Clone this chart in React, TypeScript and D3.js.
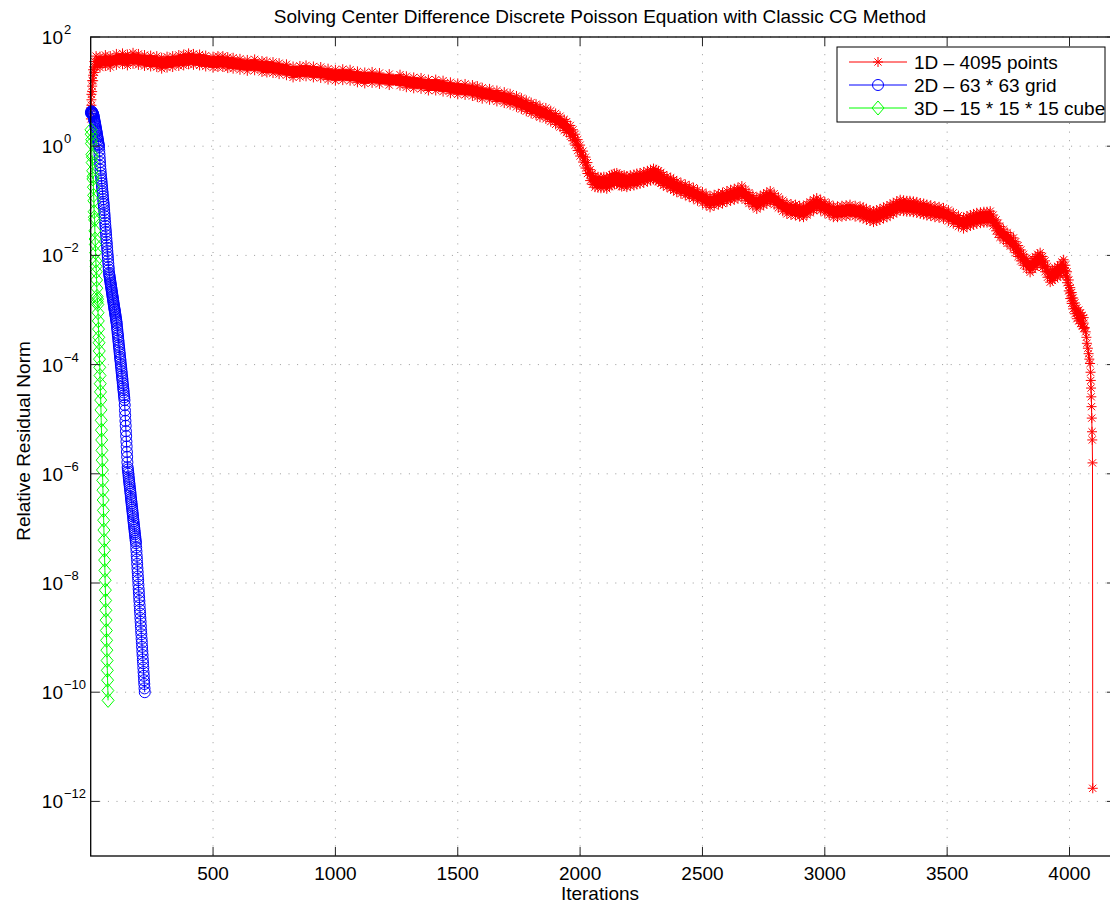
import * as d3 from "d3";

const W = 1110;
const H = 905;
const LEFT = 90.7;
const RIGHT = 1116;
const TOP = 37;
const BOTTOM = 856;
const FONT = "'Liberation Sans', Arial, Helvetica, sans-serif";

const xTicks = [500, 1000, 1500, 2000, 2500, 3000, 3500, 4000];
const yTickExps = [2, 0, -2, -4, -6, -8, -10, -12];
const seriesLabels = ["1D \u2013 4095 points", "2D \u2013 63 * 63 grid", "3D \u2013 15 * 15 * 15 cube"];

// 1D: [iteration, log10 relative residual]
const redPoints: [number, number][] = [
  [1, 0.6], [3, 0.85], [6, 1.1], [10, 1.3], [15, 1.45], [22, 1.55], [38, 1.54], [60, 1.57],
  [80, 1.55], [105, 1.59], [130, 1.6], [150, 1.58], [173, 1.61], [195, 1.59], [220, 1.57],
  [245, 1.56], [270, 1.55], [290, 1.52], [312, 1.54], [335, 1.55], [360, 1.57], [380, 1.58],
  [400, 1.6], [420, 1.59], [445, 1.58], [470, 1.56], [500, 1.54], [520, 1.55], [540, 1.55],
  [560, 1.53], [582, 1.52], [610, 1.5], [640, 1.48], [670, 1.49], [700, 1.46], [720, 1.45],
  [745, 1.44], [770, 1.42], [800, 1.4], [827, 1.36], [855, 1.37], [880, 1.38], [910, 1.36],
  [940, 1.35], [970, 1.32], [1000, 1.3], [1030, 1.31], [1060, 1.3], [1090, 1.27], [1120, 1.25],
  [1150, 1.26], [1180, 1.24], [1220, 1.22], [1264, 1.21], [1290, 1.18], [1320, 1.16], [1350, 1.15],
  [1380, 1.12], [1410, 1.12], [1440, 1.1], [1470, 1.07], [1500, 1.05], [1530, 1.04], [1560, 1.02],
  [1580, 1.0], [1600, 0.97], [1630, 0.95], [1660, 0.92], [1690, 0.89], [1714, 0.86], [1740, 0.82],
  [1760, 0.78], [1780, 0.74], [1800, 0.7], [1820, 0.67], [1836, 0.63], [1860, 0.6], [1880, 0.55],
  [1900, 0.5], [1918, 0.45], [1935, 0.39], [1945, 0.35], [1960, 0.28], [1971, 0.2], [1980, 0.12],
  [1990, 0.02], [2000, -0.08], [2012, -0.19], [2022, -0.3], [2030, -0.4], [2041, -0.53], [2050, -0.6],
  [2061, -0.65], [2073, -0.66], [2085, -0.67], [2097, -0.66], [2109, -0.68], [2120, -0.64],
  [2130, -0.62], [2140, -0.6], [2150, -0.59], [2160, -0.62], [2170, -0.64], [2180, -0.63],
  [2191, -0.65], [2205, -0.63], [2220, -0.62], [2232, -0.6], [2245, -0.59], [2260, -0.57],
  [2275, -0.55], [2288, -0.53], [2300, -0.51], [2310, -0.53], [2320, -0.55], [2330, -0.58],
  [2340, -0.62], [2355, -0.65], [2370, -0.68], [2382, -0.71], [2395, -0.74], [2412, -0.77],
  [2430, -0.8], [2446, -0.83], [2463, -0.86], [2480, -0.9], [2500, -0.94], [2515, -0.98],
  [2531, -1.02], [2548, -0.99], [2565, -0.97], [2582, -0.95], [2600, -0.92], [2615, -0.9],
  [2630, -0.88], [2645, -0.86], [2661, -0.83], [2675, -0.89], [2690, -0.95], [2706, -1.0],
  [2722, -1.05], [2736, -1.01], [2750, -0.98], [2763, -0.95], [2777, -0.92], [2793, -0.97],
  [2810, -1.03], [2828, -1.09], [2845, -1.14], [2862, -1.16], [2880, -1.17], [2897, -1.19],
  [2913, -1.2], [2927, -1.16], [2940, -1.12], [2954, -1.08], [2967, -1.05], [2983, -1.08],
  [3000, -1.12], [3018, -1.16], [3035, -1.2], [3052, -1.2], [3070, -1.19], [3087, -1.18],
  [3103, -1.17], [3124, -1.19], [3144, -1.2], [3157, -1.22], [3170, -1.25], [3185, -1.27],
  [3199, -1.29], [3212, -1.27], [3225, -1.25], [3240, -1.22], [3254, -1.2], [3267, -1.17],
  [3280, -1.14], [3294, -1.11], [3308, -1.08], [3322, -1.09], [3335, -1.1], [3348, -1.1],
  [3362, -1.11], [3376, -1.12], [3390, -1.14], [3404, -1.15], [3417, -1.17], [3433, -1.18],
  [3450, -1.2], [3467, -1.21], [3485, -1.23], [3505, -1.27], [3525, -1.32], [3546, -1.37],
  [3567, -1.41], [3581, -1.38], [3595, -1.36], [3608, -1.34], [3621, -1.32], [3636, -1.31],
  [3650, -1.3], [3663, -1.3], [3676, -1.29], [3688, -1.36], [3700, -1.45], [3708, -1.51],
  [3716, -1.57], [3730, -1.62], [3745, -1.68], [3758, -1.73], [3771, -1.78], [3780, -1.85],
  [3790, -1.92], [3801, -2.0], [3812, -2.08], [3825, -2.15], [3839, -2.21], [3850, -2.16],
  [3860, -2.12], [3870, -2.08], [3880, -2.05], [3890, -2.12], [3900, -2.2], [3910, -2.3],
  [3921, -2.39], [3930, -2.36], [3940, -2.33], [3951, -2.3], [3962, -2.27], [3969, -2.22],
  [3976, -2.18], [3983, -2.28], [3990, -2.4], [3997, -2.55], [4003, -2.69], [4009, -2.78],
  [4015, -2.88], [4022, -2.97], [4030, -3.06], [4038, -3.1], [4045, -3.15], [4052, -3.2],
  [4058, -3.24], [4062, -3.32], [4066, -3.4], [4069, -3.5], [4071, -3.61], [4075, -3.7],
  [4078, -3.8], [4081, -3.9], [4084, -3.98], [4086, -4.14], [4087, -4.29], [4088, -4.43],
  [4089, -4.59], [4090, -4.77], [4091, -4.98], [4092, -5.23], [4093, -5.38], [4094, -5.8],
  [4095, -11.76],
];

// 2D: log10 residual at iterations 1 .. 221
const blueLog = [
  0.62, 0.6, 0.64, 0.61, 0.6, 0.63, 0.59, 0.6, 0.6, 0.58, 0.57, 0.55,
  0.53, 0.5, 0.48, 0.45, 0.43, 0.41, 0.38, 0.36, 0.33, 0.31, 0.28, 0.26, 0.23, 0.2, 0.18, 0.15,
  0.12, 0.1, 0.07, 0.04, 0.02, -0.01,
  -0.08, -0.15, -0.22, -0.29, -0.36, -0.43, -0.49,
  -0.54, -0.59, -0.63, -0.68, -0.73, -0.78, -0.83, -0.87, -0.92, -0.97, -1.02, -1.06, -1.11,
  -1.17, -1.23, -1.28, -1.34, -1.4, -1.46, -1.52, -1.57, -1.63, -1.69, -1.75, -1.8, -1.86, -1.92,
  -1.98, -2.03, -2.09, -2.15, -2.21, -2.26, -2.32,
  -2.35, -2.38, -2.41, -2.44, -2.47, -2.5, -2.53, -2.56, -2.59, -2.62, -2.65, -2.68, -2.71, -2.74,
  -2.77, -2.8, -2.83, -2.86, -2.89, -2.92, -2.95, -2.98, -3.0, -3.03, -3.06, -3.09, -3.12, -3.15,
  -3.18, -3.21, -3.24,
  -3.28, -3.33, -3.37, -3.42, -3.46, -3.5, -3.55, -3.59, -3.64, -3.68, -3.72, -3.77, -3.81, -3.86,
  -3.9, -3.94, -3.99, -4.03, -4.07, -4.12, -4.16, -4.21, -4.25, -4.29, -4.34, -4.38, -4.43, -4.47,
  -4.51, -4.56, -4.6, -4.65,
  -4.74, -4.84, -4.93, -5.03, -5.12, -5.22, -5.31, -5.41, -5.5, -5.6, -5.69, -5.79, -5.88,
  -5.92, -5.96, -6.0, -6.05, -6.09, -6.13, -6.17, -6.21, -6.25, -6.29, -6.33, -6.37, -6.42, -6.46,
  -6.5, -6.54, -6.58, -6.62, -6.66, -6.7, -6.74, -6.78, -6.83, -6.87, -6.91, -6.95, -6.99, -7.03,
  -7.07, -7.11, -7.15, -7.19, -7.23, -7.27,
  -7.35, -7.42, -7.5, -7.57, -7.65, -7.73, -7.8, -7.88, -7.95, -8.03, -8.11, -8.18, -8.26, -8.33,
  -8.41, -8.49, -8.56, -8.64, -8.71, -8.79, -8.87, -8.94, -9.02, -9.09, -9.17, -9.25, -9.32, -9.4,
  -9.47, -9.55, -9.63, -9.7, -9.78, -9.85, -9.93, -10.0,
];

// 3D: log10 residual at iterations 1 .. 71
const greenLog = [
  0.3, 0.22, 0.05, 0.12, -0.15, -0.3, -0.2, -0.45, -0.6, -0.55, -0.75, -0.9, -1.0, -1.2, -1.3,
  -1.35, -1.55, -1.7, -1.8, -1.95, -2.1, -2.2, -2.3, -2.45, -2.6, -2.75, -2.85, -2.8, -2.9, -3.05,
  -3.2, -3.35, -3.5, -3.6, -3.75, -3.9, -4.05, -4.2, -4.35, -4.5, -4.65, -4.83, -5.02, -5.2, -5.38,
  -5.57, -5.75, -5.93, -6.12, -6.3, -6.48, -6.67, -6.85, -7.03, -7.22, -7.4, -7.58, -7.77, -7.95,
  -8.13, -8.32, -8.5, -8.68, -8.87, -9.05, -9.23, -9.42, -9.6, -9.78, -9.97, -10.15,
];

const RED = "#ff0000";
const BLUE = "#0000ff";
const GREEN = "#00ff00";
const BAND = 0.1; // half thickness (decades) of the dense oscillating 1D band
const BAND_END = 4060;

const STAR = "M-5,0H5M0,-5V5M-3.6,-3.6L3.6,3.6M-3.6,3.6L3.6,-3.6";
const DIAMOND = "M0,-7L6,0L0,7L-6,0Z";

const x = d3.scaleLinear().domain([0, 4190]).range([LEFT, RIGHT]);
const y = d3.scaleLog().domain([1e-13, 1e2]).range([BOTTOM, TOP]);

type P = { i: number; v: number };

const red: P[] = redPoints.map(([i, l]) => ({ i, v: 10 ** l }));
const blue: P[] = blueLog.map((l, k) => ({ i: 1 + k, v: 10 ** l }));
const green: P[] = greenLog.map((l, k) => ({ i: 1 + k, v: 10 ** l }));

const line = d3
  .line<P>()
  .x((d) => x(d.i))
  .y((d) => y(d.v));

const bandPts = redPoints.filter(([i]) => i <= BAND_END);
const band = d3
  .area<[number, number]>()
  .x((d) => x(d[0]))
  .y0((d) => y(10 ** (d[1] - BAND)))
  .y1((d) => y(10 ** (d[1] + BAND)));

const App = () => {
  const supExp = (e: number) => (e < 0 ? "\u2212" + Math.abs(e) : String(e));
  return (
    <svg
      width={W}
      height={H}
      style={{ position: "absolute", left: 0, top: 0, background: "#fff" }}
      fontFamily={FONT}
    >
      <rect x={0} y={0} width={W} height={H} fill="#fff" />

      {/* grid */}
      <g stroke="#9a9a9a" strokeWidth={1} strokeDasharray="1,7.6">
        {xTicks.map((t) => (
          <line key={"gx" + t} x1={x(t)} x2={x(t)} y1={TOP} y2={BOTTOM} />
        ))}
        {yTickExps.map((e) => (
          <line key={"gy" + e} x1={LEFT} x2={RIGHT} y1={y(10 ** e)} y2={y(10 ** e)} />
        ))}
      </g>

      {/* 1D series */}
      <path d={band(bandPts) ?? ""} fill={RED} />
      <path d={line(red) ?? ""} fill="none" stroke={RED} strokeWidth={1} />
      <g stroke={RED} strokeWidth={1} fill="none">
        {red.map((d, k) => (
          <path key={"r" + k} d={STAR} transform={`translate(${x(d.i)},${y(d.v)})`} />
        ))}
        {bandPts.map(([i, l], k) => (
          <g key={"rb" + k}>
            <path d={STAR} transform={`translate(${x(i)},${y(10 ** (l + BAND))})`} />
            <path d={STAR} transform={`translate(${x(i)},${y(10 ** (l - BAND))})`} />
          </g>
        ))}
      </g>

      {/* 2D series */}
      <path d={line(blue) ?? ""} fill="none" stroke={BLUE} strokeWidth={1} />
      <g stroke={BLUE} strokeWidth={1} fill="none">
        {blue.map((d, k) => (
          <circle key={"b" + k} cx={x(d.i)} cy={y(d.v)} r={5.5} />
        ))}
      </g>

      {/* 3D series */}
      <path d={line(green) ?? ""} fill="none" stroke={GREEN} strokeWidth={1} />
      <g stroke={GREEN} strokeWidth={1} fill="none">
        {green.map((d, k) => (
          <path key={"g" + k} d={DIAMOND} transform={`translate(${x(d.i)},${y(d.v)})`} />
        ))}
      </g>

      {/* axes box and ticks */}
      <rect x={LEFT} y={TOP} width={RIGHT - LEFT} height={BOTTOM - TOP} fill="none" stroke="#000" strokeWidth={1.3} />
      <g stroke="#222" strokeWidth={1}>
        {xTicks.map((t) => (
          <g key={"tx" + t}>
            <line x1={x(t)} x2={x(t)} y1={BOTTOM} y2={BOTTOM - 9} />
            <line x1={x(t)} x2={x(t)} y1={TOP} y2={TOP + 9} />
          </g>
        ))}
        {yTickExps.map((e) => (
          <g key={"ty" + e}>
            <line x1={LEFT} x2={LEFT + 9} y1={y(10 ** e)} y2={y(10 ** e)} />
            <line x1={RIGHT} x2={RIGHT - 9} y1={y(10 ** e)} y2={y(10 ** e)} />
          </g>
        ))}
      </g>

      {/* tick labels */}
      <g fontSize={19} fill="#000">
        {xTicks.map((t) => (
          <text key={"lx" + t} x={x(t)} y={880} textAnchor="middle">
            {t}
          </text>
        ))}
        {yTickExps.map((e) => (
          <g key={"ly" + e}>
            <text x={63} y={y(10 ** e) + 7} textAnchor="end">
              10
            </text>
            <text x={64} y={y(10 ** e) - 3} fontSize={13}>
              {supExp(e)}
            </text>
          </g>
        ))}
      </g>

      {/* title and axis labels */}
      <text x={600} y={23} textAnchor="middle" fontSize={19}>
        Solving Center Difference Discrete Poisson Equation with Classic CG Method
      </text>
      <text x={600} y={900} textAnchor="middle" fontSize={19}>
        Iterations
      </text>
      <text transform="translate(30,441) rotate(-90)" textAnchor="middle" fontSize={19}>
        Relative Residual Norm
      </text>

      {/* legend */}
      <g>
        <rect x={837} y={47} width={268} height={75} fill="#fff" stroke="#000" strokeWidth={1} />
        {seriesLabels.map((label, k) => {
          const ly = 62 + k * 23;
          const c = [RED, BLUE, GREEN][k];
          return (
            <g key={label}>
              <line x1={849} x2={907} y1={ly} y2={ly} stroke={c} strokeWidth={1} />
              {k === 0 && <path d={STAR} transform={`translate(878,${ly})`} stroke={c} fill="none" />}
              {k === 1 && <circle cx={878} cy={ly} r={5.5} stroke={c} fill="none" />}
              {k === 2 && <path d={DIAMOND} transform={`translate(878,${ly})`} stroke={c} fill="none" />}
              <text x={914} y={ly + 7} fontSize={19}>
                {label}
              </text>
            </g>
          );
        })}
      </g>
    </svg>
  );
};

export default App;
